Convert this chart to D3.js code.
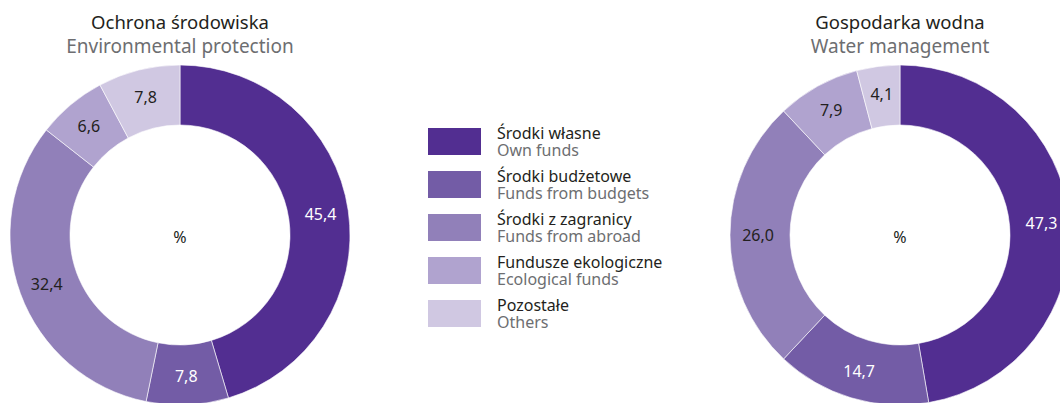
<!DOCTYPE html>
<html>
<head>
<meta charset="utf-8">
<script src="https://cdn.jsdelivr.net/npm/d3@7"></script>
<style>
  body { margin: 0; background: #fff; }
  svg { display: block; font-family: "Noto Sans", "Open Sans", sans-serif; }
</style>
</head>
<body>
<svg id="chart"></svg>
<script>
'use strict';

var categoriesPl = ['Środki własne', 'Środki budżetowe', 'Środki z zagranicy', 'Fundusze ekologiczne', 'Pozostałe'];
var categoriesEn = ['Own funds', 'Funds from budgets', 'Funds from abroad', 'Ecological funds', 'Others'];
var envValues = [45.4, 7.8, 32.4, 6.6, 7.8];
var waterValues = [47.3, 14.7, 26.0, 7.9, 4.1];
var titlesPl = ['Ochrona środowiska', 'Gospodarka wodna'];
var titlesEn = ['Environmental protection', 'Water management'];

var colors = ['#522e91', '#735ca6', '#9180b9', '#b0a3cf', '#d0c8e2'];
var labelColors = ['#ffffff', '#ffffff', '#231f20', '#231f20', '#231f20'];

var svgWidth = 1060, svgHeight = 403,
    outerR = 170, innerR = 110, cy = 235;

var svg = d3.select('#chart')
    .attr('width', svgWidth)
    .attr('height', svgHeight);

var color = d3.scaleOrdinal().domain(categoriesPl).range(colors);
var fmt = function(v) { return d3.format('.1f')(v).replace('.', ','); };

var pie = d3.pie().sort(null).value(function(d) { return d.value; });
var arc = d3.arc().innerRadius(innerR).outerRadius(outerR);
var labelArc = d3.arc().innerRadius(142).outerRadius(142);

var drawDonut = function(values, cx, idx) {
    var data = values.map(function(v, i) { return { name: categoriesPl[i], value: v, i: i }; });
    var g = svg.append('g').attr('transform', 'translate(' + cx + ',' + cy + ')');

    g.selectAll('path')
        .data(pie(data))
        .enter()
        .append('path')
        .attr('d', arc)
        .attr('fill', function(d) { return color(d.data.name); })
        .attr('stroke', '#fff')
        .attr('stroke-width', 0.6);

    g.selectAll('text.val')
        .data(pie(data))
        .enter()
        .append('text')
        .attr('class', 'val')
        .attr('transform', function(d) { return 'translate(' + labelArc.centroid(d) + ')'; })
        .attr('text-anchor', 'middle')
        .attr('dy', '0.35em')
        .attr('font-size', 16)
        .attr('fill', function(d) { return labelColors[d.data.i]; })
        .text(function(d) { return fmt(d.data.value); });

    g.append('text')
        .attr('text-anchor', 'middle')
        .attr('dy', '0.35em')
        .attr('y', 2)
        .attr('font-size', 16)
        .attr('fill', '#231f20')
        .text('%');

    svg.append('text')
        .attr('x', cx).attr('y', 29)
        .attr('text-anchor', 'middle')
        .attr('font-size', 18.5)
        .attr('fill', '#231f20')
        .text(titlesPl[idx]);

    svg.append('text')
        .attr('x', cx).attr('y', 53)
        .attr('text-anchor', 'middle')
        .attr('font-size', 19)
        .attr('fill', '#6d6e71')
        .text(titlesEn[idx]);
};

drawDonut(envValues, 180, 0);
drawDonut(waterValues, 900, 1);

// legend
var legendY = d3.scaleBand().domain(categoriesPl).range([128, 343]).paddingInner(0);
var legend = svg.append('g');
var items = legend.selectAll('g')
    .data(categoriesPl)
    .enter()
    .append('g')
    .attr('transform', function(d) { return 'translate(428,' + legendY(d) + ')'; });

items.append('rect')
    .attr('width', 53)
    .attr('height', 27)
    .attr('fill', function(d) { return color(d); });

items.append('text')
    .attr('x', 69).attr('y', 11)
    .attr('font-size', 16)
    .attr('fill', '#231f20')
    .text(function(d) { return d; });

items.append('text')
    .attr('x', 69).attr('y', 28)
    .attr('font-size', 16)
    .attr('fill', '#6d6e71')
    .text(function(d, i) { return categoriesEn[i]; });
</script>
</body>
</html>
